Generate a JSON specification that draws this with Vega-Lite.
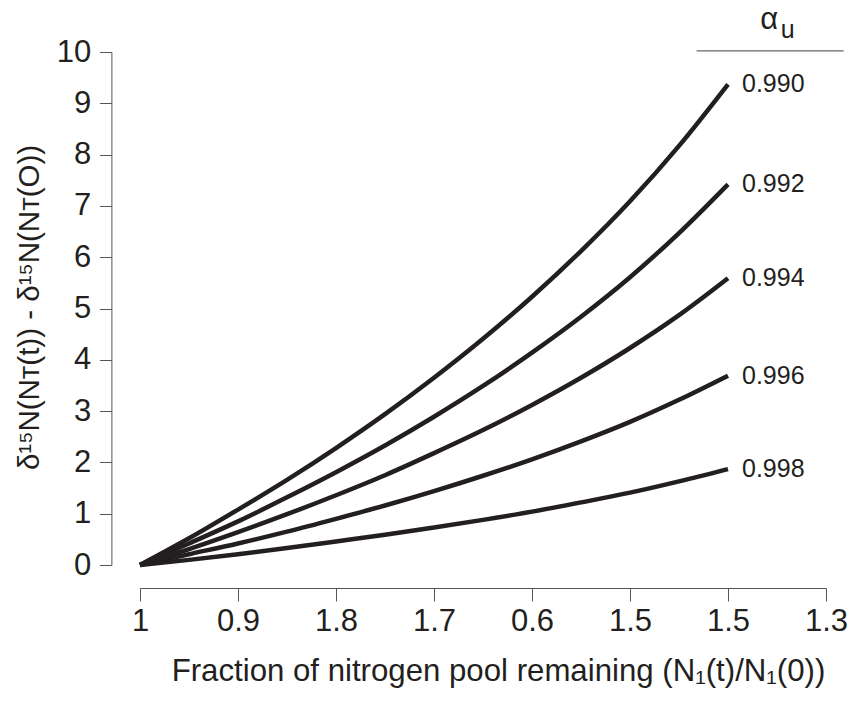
{
  "$schema": "https://vega.github.io/schema/vega-lite/v6.json",
  "width": 686,
  "height": 513,
  "autosize": {"type": "none"},
  "padding": {"left": 140, "top": 52, "right": 24, "bottom": 136},
  "background": "white",
  "config": {
    "view": {"stroke": null},
    "font": "Liberation Sans",
    "axis": {
      "grid": false,
      "domainColor": "#555555",
      "tickColor": "#555555",
      "domainWidth": 1,
      "tickWidth": 1,
      "labelColor": "#231f20",
      "labelFont": "Liberation Sans",
      "labelFontSize": 31,
      "titleColor": "#231f20",
      "titleFont": "Liberation Sans",
      "titleFontWeight": "normal"
    }
  },
  "datasets": {
    "curves": [
      {"alpha": "0.990", "step": 0, "delta": 0},
      {"alpha": "0.990", "step": 0.5, "delta": 0.52},
      {"alpha": "0.990", "step": 1, "delta": 1.08},
      {"alpha": "0.990", "step": 1.5, "delta": 1.66},
      {"alpha": "0.990", "step": 2, "delta": 2.28},
      {"alpha": "0.990", "step": 2.5, "delta": 2.94},
      {"alpha": "0.990", "step": 3, "delta": 3.65},
      {"alpha": "0.990", "step": 3.5, "delta": 4.41},
      {"alpha": "0.990", "step": 4, "delta": 5.23},
      {"alpha": "0.990", "step": 4.5, "delta": 6.12},
      {"alpha": "0.990", "step": 5, "delta": 7.09},
      {"alpha": "0.990", "step": 5.5, "delta": 8.17},
      {"alpha": "0.990", "step": 6, "delta": 9.37},
      {"alpha": "0.992", "step": 0, "delta": 0},
      {"alpha": "0.992", "step": 0.5, "delta": 0.42},
      {"alpha": "0.992", "step": 1, "delta": 0.85},
      {"alpha": "0.992", "step": 1.5, "delta": 1.32},
      {"alpha": "0.992", "step": 2, "delta": 1.81},
      {"alpha": "0.992", "step": 2.5, "delta": 2.33},
      {"alpha": "0.992", "step": 3, "delta": 2.89},
      {"alpha": "0.992", "step": 3.5, "delta": 3.49},
      {"alpha": "0.992", "step": 4, "delta": 4.14},
      {"alpha": "0.992", "step": 4.5, "delta": 4.84},
      {"alpha": "0.992", "step": 5, "delta": 5.61},
      {"alpha": "0.992", "step": 5.5, "delta": 6.47},
      {"alpha": "0.992", "step": 6, "delta": 7.42},
      {"alpha": "0.994", "step": 0, "delta": 0},
      {"alpha": "0.994", "step": 0.5, "delta": 0.31},
      {"alpha": "0.994", "step": 1, "delta": 0.64},
      {"alpha": "0.994", "step": 1.5, "delta": 0.99},
      {"alpha": "0.994", "step": 2, "delta": 1.36},
      {"alpha": "0.994", "step": 2.5, "delta": 1.75},
      {"alpha": "0.994", "step": 3, "delta": 2.18},
      {"alpha": "0.994", "step": 3.5, "delta": 2.63},
      {"alpha": "0.994", "step": 4, "delta": 3.12},
      {"alpha": "0.994", "step": 4.5, "delta": 3.65},
      {"alpha": "0.994", "step": 5, "delta": 4.23},
      {"alpha": "0.994", "step": 5.5, "delta": 4.87},
      {"alpha": "0.994", "step": 6, "delta": 5.59},
      {"alpha": "0.996", "step": 0, "delta": 0},
      {"alpha": "0.996", "step": 0.5, "delta": 0.21},
      {"alpha": "0.996", "step": 1, "delta": 0.42},
      {"alpha": "0.996", "step": 1.5, "delta": 0.65},
      {"alpha": "0.996", "step": 2, "delta": 0.9},
      {"alpha": "0.996", "step": 2.5, "delta": 1.16},
      {"alpha": "0.996", "step": 3, "delta": 1.44},
      {"alpha": "0.996", "step": 3.5, "delta": 1.74},
      {"alpha": "0.996", "step": 4, "delta": 2.06},
      {"alpha": "0.996", "step": 4.5, "delta": 2.41},
      {"alpha": "0.996", "step": 5, "delta": 2.79},
      {"alpha": "0.996", "step": 5.5, "delta": 3.22},
      {"alpha": "0.996", "step": 6, "delta": 3.69},
      {"alpha": "0.998", "step": 0, "delta": 0},
      {"alpha": "0.998", "step": 0.5, "delta": 0.1},
      {"alpha": "0.998", "step": 1, "delta": 0.21},
      {"alpha": "0.998", "step": 1.5, "delta": 0.33},
      {"alpha": "0.998", "step": 2, "delta": 0.46},
      {"alpha": "0.998", "step": 2.5, "delta": 0.59},
      {"alpha": "0.998", "step": 3, "delta": 0.73},
      {"alpha": "0.998", "step": 3.5, "delta": 0.88},
      {"alpha": "0.998", "step": 4, "delta": 1.04},
      {"alpha": "0.998", "step": 4.5, "delta": 1.22},
      {"alpha": "0.998", "step": 5, "delta": 1.41},
      {"alpha": "0.998", "step": 5.5, "delta": 1.63},
      {"alpha": "0.998", "step": 6, "delta": 1.87}
    ],
    "header": [
      {"step": 6.42, "delta": 10.44, "symbol": "α"}
    ],
    "headerSub": [
      {"step": 6.61, "delta": 10.28, "symbol": "u"}
    ],
    "headerRule": [
      {"step": 5.68, "step2": 7.18, "delta": 10.02}
    ]
  },
  "layer": [
    {
      "data": {"name": "curves"},
      "mark": {"type": "line", "color": "#231f20", "strokeWidth": 4.5, "interpolate": "monotone"},
      "encoding": {
        "x": {
          "field": "step",
          "type": "quantitative",
          "scale": {"domain": [0, 7], "nice": false, "zero": false},
          "axis": {
            "values": [0, 1, 2, 3, 4, 5, 6, 7],
            "labelExpr": "['1', '0.9', '1.8', '1.7', '0.6', '1.5', '1.5', '1.3'][datum.value]",
            "offset": 23,
            "tickSize": 13,
            "labelPadding": 5,
            "labelFlush": false,
            "labelOverlap": false,
            "title": "Fraction of nitrogen pool remaining (N₁(t)/N₁(0))",
            "titleFontSize": 31.2,
            "titleAnchor": "start",
            "titleAlign": "center",
            "titleBaseline": "alphabetic",
            "titleX": 358,
            "titleY": 92
          }
        },
        "y": {
          "field": "delta",
          "type": "quantitative",
          "scale": {"domain": [0, 10], "nice": false},
          "axis": {
            "values": [0, 1, 2, 3, 4, 5, 6, 7, 8, 9, 10],
            "offset": 28.6,
            "tickSize": 12,
            "labelPadding": 8.6,
            "labelFlush": false,
            "labelOverlap": false,
            "title": "δ¹⁵N(Nᴛ(t)) - δ¹⁵N(Nᴛ(O))",
            "titleFontSize": 29.5,
            "titleAngle": -90,
            "titleAlign": "center",
            "titleBaseline": "alphabetic",
            "titleX": -73,
            "titleY": 255
          }
        },
        "detail": {"field": "alpha", "type": "nominal"}
      }
    },
    {
      "data": {"name": "curves"},
      "transform": [{"filter": "datum.step == 6"}],
      "mark": {"type": "text", "align": "left", "baseline": "middle", "dx": 14, "fontSize": 25, "color": "#231f20"},
      "encoding": {
        "x": {"field": "step", "type": "quantitative"},
        "y": {"field": "delta", "type": "quantitative"},
        "text": {"field": "alpha", "type": "nominal"}
      }
    },
    {
      "data": {"name": "header"},
      "mark": {"type": "text", "align": "center", "baseline": "alphabetic", "fontSize": 31, "color": "#231f20"},
      "encoding": {
        "x": {"field": "step", "type": "quantitative"},
        "y": {"field": "delta", "type": "quantitative"},
        "text": {"field": "symbol", "type": "nominal"}
      }
    },
    {
      "data": {"name": "headerSub"},
      "mark": {"type": "text", "align": "center", "baseline": "alphabetic", "fontSize": 25, "color": "#231f20"},
      "encoding": {
        "x": {"field": "step", "type": "quantitative"},
        "y": {"field": "delta", "type": "quantitative"},
        "text": {"field": "symbol", "type": "nominal"}
      }
    },
    {
      "data": {"name": "headerRule"},
      "mark": {"type": "rule", "color": "#666666", "strokeWidth": 1.2},
      "encoding": {
        "x": {"field": "step", "type": "quantitative"},
        "x2": {"field": "step2"},
        "y": {"field": "delta", "type": "quantitative"}
      }
    }
  ]
}
